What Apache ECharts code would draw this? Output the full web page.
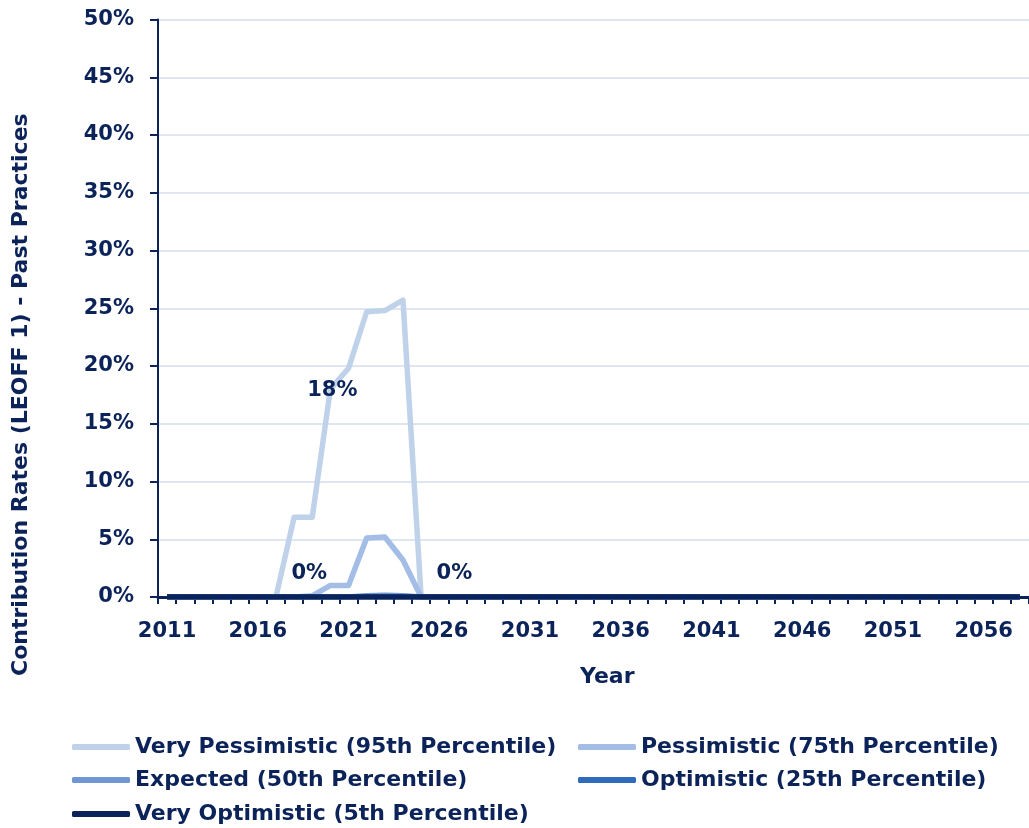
<!DOCTYPE html>
<html>
<head>
<meta charset="utf-8">
<script src="https://cdn.jsdelivr.net/npm/echarts@6/dist/echarts.min.js"></script>
<style>
html,body{margin:0;padding:0;background:#fff;}
#chart{width:1029px;height:828px;}
</style>
</head>
<body>
<div id="chart"></div>
<script>
const years = ['2011','2012','2013','2014','2015','2016','2017','2018','2019','2020','2021','2022','2023','2024','2025','2026','2027','2028','2029','2030','2031','2032','2033','2034','2035','2036','2037','2038','2039','2040','2041','2042','2043','2044','2045','2046','2047','2048','2049','2050','2051','2052','2053','2054','2055','2056','2057','2058'];
const seriesNames = ['Very Pessimistic (95th Percentile)','Pessimistic (75th Percentile)','Expected (50th Percentile)','Optimistic (25th Percentile)','Very Optimistic (5th Percentile)'];
const veryPessimistic = [0,0,0,0,0,0,0,6.9,6.9,18,19.8,24.7,24.8,25.7,0,0,0,0,0,0,0,0,0,0,0,0,0,0,0,0,0,0,0,0,0,0,0,0,0,0,0,0,0,0,0,0,0,0];
const pessimistic = [0,0,0,0,0,0,0,0,0.1,1.0,1.0,5.1,5.2,3.2,0,0,0,0,0,0,0,0,0,0,0,0,0,0,0,0,0,0,0,0,0,0,0,0,0,0,0,0,0,0,0,0,0,0];
const expected = [0,0,0,0,0,0,0,0,0,0,0,0.1,0.15,0.1,0,0,0,0,0,0,0,0,0,0,0,0,0,0,0,0,0,0,0,0,0,0,0,0,0,0,0,0,0,0,0,0,0,0];
const optimistic = [0,0,0,0,0,0,0,0,0,0,0,0,0,0,0,0,0,0,0,0,0,0,0,0,0,0,0,0,0,0,0,0,0,0,0,0,0,0,0,0,0,0,0,0,0,0,0,0];
const veryOptimistic = [0,0,0,0,0,0,0,0,0,0,0,0,0,0,0,0,0,0,0,0,0,0,0,0,0,0,0,0,0,0,0,0,0,0,0,0,0,0,0,0,0,0,0,0,0,0,0,0];
const yTicks = [0,5,10,15,20,25,30,35,40,45,50];
const vpLabelYears = ['2020'];
const expLabelYears = ['2019','2027'];

const colors = ['#c0d2ea','#a3bde6','#6f97d3','#2f6bbd','#0b2358'];
const textColor = '#0b2359';
const FONT = '"DejaVu Sans", sans-serif';

function withLabels(values, labelYears, labelOpt) {
  return values.map((v, i) => labelYears.indexOf(years[i]) >= 0 ? {value: v, label: Object.assign({show: true}, labelOpt)} : v);
}

const chart = echarts.init(document.getElementById('chart'));
const labelBase = {color: textColor, fontFamily: FONT, fontWeight: 'bold', fontSize: 21, formatter: p => Math.round(p.value) + '%'};
const dataSets = [
  withLabels(veryPessimistic, vpLabelYears, Object.assign({position: 'inside', offset: [2, 1]}, labelBase)),
  pessimistic,
  withLabels(expected, expLabelYears, Object.assign({position: 'top', distance: 13, offset: [-3, 0]}, labelBase)),
  optimistic,
  veryOptimistic
];

const legendText = {color: textColor, fontFamily: FONT, fontWeight: 'bold', fontSize: 22};
const legendPos = [[72, 736], [578, 736], [72, 769], [578, 769], [72, 803]];
const legends = seriesNames.map((name, i) => ({
  left: legendPos[i][0], top: legendPos[i][1], padding: 0, itemWidth: 58, itemHeight: 6, icon: 'roundRect',
  data: [name], textStyle: legendText
}));

chart.setOption({
  animation: false,
  backgroundColor: '#ffffff',
  color: colors,
  grid: {left: 158, top: 19.5, right: -9, bottom: 231, containLabel: false},
  xAxis: {
    type: 'category',
    data: years,
    boundaryGap: true,
    axisLine: {lineStyle: {color: '#0b2358', width: 3}},
    axisTick: {show: true, interval: 0, length: 7, lineStyle: {color: '#0b2358', width: 2}},
    axisLabel: {interval: 4, color: textColor, fontFamily: FONT, fontWeight: 'bold', fontSize: 21, margin: 24},
    splitLine: {show: false}
  },
  yAxis: {
    type: 'value',
    min: 0, max: 50, interval: 5,
    axisLine: {show: true, lineStyle: {color: '#0b2358', width: 2}},
    axisTick: {show: true, length: 8, lineStyle: {color: '#0b2358', width: 2}},
    axisLabel: {color: textColor, fontFamily: FONT, fontWeight: 'bold', fontSize: 21, margin: 24,
      formatter: v => yTicks.indexOf(v) >= 0 ? v + '%' : ''},
    splitLine: {show: true, lineStyle: {color: '#dfe6f2', width: 2}}
  },
  legend: legends,
  graphic: [
    {type: 'text', rotation: Math.PI / 2, x: 10, y: 676, style: {
      text: 'Contribution Rates (LEOFF 1) - Past Practices', fill: textColor,
      font: 'bold 22px ' + FONT}},
    {type: 'text', left: 580, top: 666, style: {text: 'Year', fill: textColor, font: 'bold 22px ' + FONT}}
  ],
  series: seriesNames.map((name, i) => ({
    name: name,
    type: 'line',
    data: dataSets[i],
    symbol: 'circle',
    symbolSize: 0,
    showSymbol: true,
    lineStyle: {width: 5.5, color: colors[i], join: 'round'},
    itemStyle: {color: colors[i]},
    label: {show: false},
    z: 2 + i
  }))
});
</script>
</body>
</html>
